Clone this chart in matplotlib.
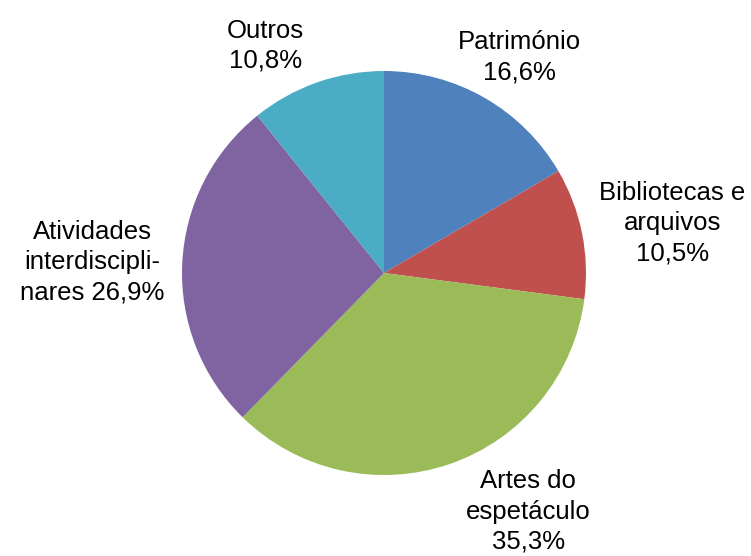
import numpy as np
import matplotlib
matplotlib.use("Agg")
import matplotlib.pyplot as plt

categories = ["Património", "Bibliotecas e\narquivos", "Artes do\nespetáculo",
              "Atividades\ninterdiscipli-\nnares", "Outros"]
values = [16.6, 10.5, 35.3, 26.9, 10.8]
colors = ["#4F81BD", "#C0504D", "#9BBB59", "#8064A2", "#4BACC6"]

W, H = 751, 556
cx, cy, R = 384, 273, 202

fig = plt.figure(figsize=(W / 100, H / 100), dpi=100)
ax = fig.add_axes([0, 0, 1, 1])
wedges, _ = ax.pie(values, colors=colors, startangle=90, counterclock=False,
                   radius=1.0, wedgeprops=dict(linewidth=0))
ax.set_xlim(-cx / R, (W - cx) / R)
ax.set_ylim(-(H - cy) / R, cy / R)
ax.set_aspect("equal")
ax.axis("off")

def fmt(v):
    return f"{v:.1f}".replace(".", ",") + "%"

# label placement: (angle offset deg, distance in radii)
place = [(-2.3, 1.26), (-1.6, 1.45), (12.1, 1.38), (0.6, 1.445), (8.2, 1.27)]
for w, cat, v, (dang, dist) in zip(wedges, categories, values, place):
    mid = np.deg2rad((w.theta1 + w.theta2) / 2 + dang)
    x, y = dist * np.cos(mid), dist * np.sin(mid)
    if cat.endswith("nares"):
        txt = cat + " " + fmt(v)
    else:
        txt = cat + "\n" + fmt(v)
    ax.text(x, y, txt, ha="center", va="center", fontsize=18.5,
            family="Liberation Sans", linespacing=1.33, color="black")

fig.savefig("out.png", dpi=100)
